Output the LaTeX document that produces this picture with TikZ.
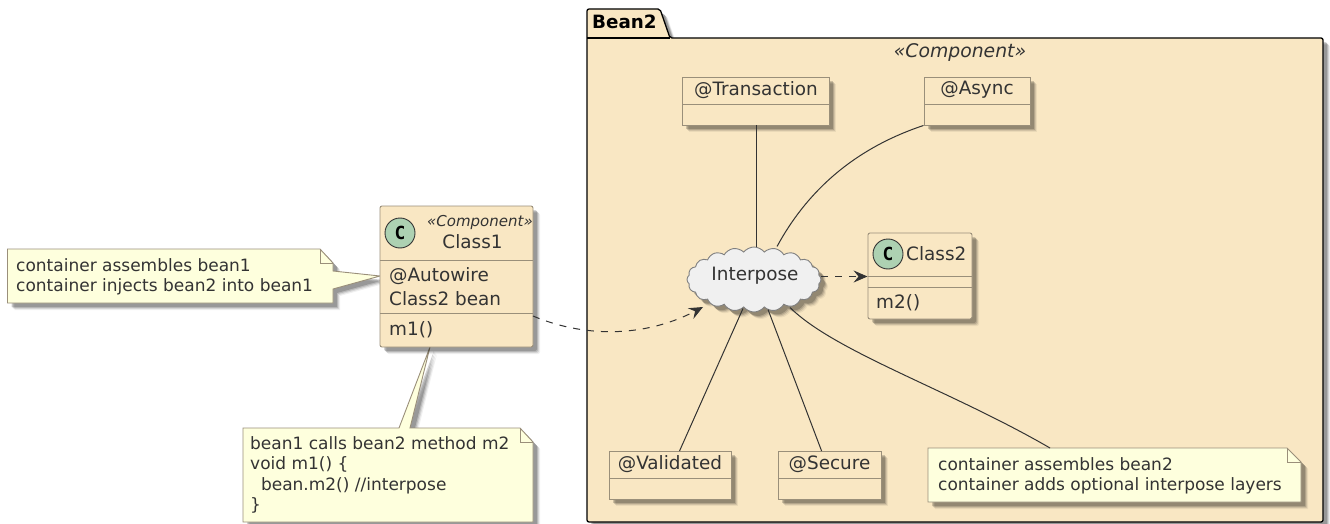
\documentclass[tikz,border=0pt]{standalone}
\usepackage{fontspec}
\setmainfont{DejaVu Sans}
\newfontfamily\spotfont{DejaVu Sans Mono}
\usetikzlibrary{arrows.meta,shadows,shapes.symbols}
\definecolor{beanfill}{HTML}{F9E7C3}
\definecolor{boxline}{HTML}{9A8F7A}
\definecolor{notefill}{HTML}{FEFFDD}
\definecolor{notelabel}{HTML}{333333}
\definecolor{spotfill}{HTML}{ADD1B2}
\begin{document}
\begin{tikzpicture}[x=1pt,y=-1pt,
    softshadow/.style={general shadow={shadow xshift=7pt,shadow yshift=-7pt,fill=black,opacity=.06},
        general shadow={shadow xshift=6pt,shadow yshift=-6pt,fill=black,opacity=.1},
        general shadow={shadow xshift=5pt,shadow yshift=-5pt,fill=black,opacity=.14},
        general shadow={shadow xshift=4pt,shadow yshift=-4pt,fill=black,opacity=.18}},
    classbox/.style={draw=boxline,fill=beanfill,rounded corners=2pt,line width=.9pt,softshadow,inner sep=0},
    plainbox/.style={draw=boxline,fill=beanfill,line width=.9pt,softshadow,inner sep=0},
    notebody/.style={draw=boxline,fill=notefill,line width=.9pt,softshadow},
    divider/.style={draw=boxline,line width=.9pt},
    txt/.style={inner sep=0,text=notelabel,font=\fontsize{18.4}{23}\selectfont,align=left},
    notetxt/.style={txt,anchor=west,font=\fontsize{17}{20.3}\selectfont},
    spot/.style={circle,draw=notelabel,fill=spotfill,line width=.9pt,minimum size=30pt,inner sep=0,font=\fontsize{18}{18}\spotfont\bfseries},
    link/.style={draw=notelabel,line width=1pt},
    dep/.style={link,dashed,dash pattern=on 7pt off 7pt,-{Stealth[length=14pt,width=12pt,inset=5pt]}}]
    \useasboundingbox (0,0) rectangle (1330,524);

    % package
    \draw[black,line width=1.3pt,fill=beanfill,softshadow,rounded corners=2pt] (587,38) -- (587,9) -- (660,9) -- (670,38) -- (1323,38) -- (1323,522) -- (587,522) -- cycle;
    \draw[black,line width=1.3pt] (587,38) -- (670,38);
    \node[inner sep=0,anchor=west,font=\fontsize{18.3}{18}\selectfont\bfseries] (pkgname) at (592,22) {Bean2};
    \node[txt,font=\fontsize{18.8}{18}\selectfont\itshape] (pkgstereo) at (960,52) {«Component»};

    % notes
    \path[notebody] (7.5,249) -- (320,249) -- (333,263) -- (333,271) -- (380,276) -- (333,289) -- (333,303) -- (7.5,303) -- cycle;
    \draw[divider] (320,249) -- (320,263) -- (333,263);
    \node[notetxt] (note1) at (16,277) {container assembles bean1\\container injects bean2 into bean1};

    \path[notebody] (243,428) -- (399,428) -- (430,347) -- (410,428) -- (520,428) -- (533,442) -- (533,522) -- (243,522) -- cycle;
    \draw[divider] (520,428) -- (520,442) -- (533,442);
    \node[notetxt] (note2) at (250,475) {bean1 calls bean2 method m2\\void m1() \{\\\ \ bean.m2() //interpose\\\}};

    \path[notebody] (928,448) -- (1287,448) -- (1301,462) -- (1301,502) -- (928,502) -- cycle;
    \draw[divider] (1287,448) -- (1287,462) -- (1301,462);
    \node[notetxt] (note3) at (938,476) {container assembles bean2\\container adds optional interpose layers};

    % class1
    \node[classbox,minimum width=153pt,minimum height=141pt] (class1) at (456.5,276.5) {};
    \draw[divider] (380,260) -- (533,260) (380,313) -- (533,313);
    \node[spot] (spot1) at (400,233) {C};
    \node[txt,anchor=east,font=\fontsize{15}{12}\selectfont\itshape] (stereo1) at (533,222) {«Component»};
    \node[txt] (name1) at (472.5,242) {Class1};
    \node[txt,anchor=west] (attr1) at (389,276) {@Autowire};
    \node[txt,anchor=west] (attr2) at (389,299) {Class2 bean};
    \node[txt,anchor=west] (meth1) at (389,330) {m1()};

    % class2
    \node[classbox,minimum width=104pt,minimum height=86pt] (class2) at (920,276) {};
    \draw[divider] (868,276) -- (972,276) (868,287) -- (972,287);
    \node[spot] (spot2) at (888,254) {C};
    \node[txt,anchor=west] (name2) at (906,254) {Class2};
    \node[txt,anchor=west] (meth2) at (876,303) {m2()};

    % annotations
    \node[plainbox,minimum width=147pt,minimum height=48pt] (transaction) at (755.5,101) {};
    \draw[divider] (682,104) -- (829,104);
    \node[txt] (transactiontxt) at (756,90) {@Transaction};
    \node[plainbox,minimum width=106pt,minimum height=48pt] (async) at (977,101) {};
    \draw[divider] (924,104) -- (1030,104);
    \node[txt] (asynctxt) at (977,90) {@Async};
    \node[plainbox,minimum width=122pt,minimum height=48pt] (validated) at (670,475) {};
    \draw[divider] (609,478) -- (731,478);
    \node[txt] (validatedtxt) at (670,464) {@Validated};
    \node[plainbox,minimum width=103pt,minimum height=48pt] (secure) at (829.5,475) {};
    \draw[divider] (778,478) -- (881,478);
    \node[txt] (securetxt) at (829.5,464) {@Secure};

    % cloud
    \node[cloud,cloud puffs=20,cloud puff arc=105,aspect=2.1,draw=gray,fill=black!6,line width=.9pt,softshadow,minimum width=134pt,minimum height=65pt,inner sep=0] (interpose) at (754,279.5) {};
    \node[txt] (interposetxt) at (755,276) {Interpose};
    \path (interpose) ++(2.5,-33) coordinate (portA);
    \path (interpose) ++(23,-33) coordinate (portB);
    \path (interpose) ++(-11,29) coordinate (portC);
    \path (interpose) ++(14,30) coordinate (portD);
    \path (interpose) ++(36,28) coordinate (portE);
    \path (interpose) ++(67,-3) coordinate (portF);
    \path (interpose) ++(-51,27.5) coordinate (portG);

    \draw[link] (transaction.south -| portA) -- (portA);
    \draw[link] (async.south west) .. controls (850,150) and (805,195) .. (portB);
    \draw[link] (portC) -- (679.5,451);
    \draw[link] (portD) -- (821.6,451);
    \draw[link] (portE) .. controls (835,352) and (950,390) .. (1050,448);
    \draw[dep] (portF) -- (class2.west |- portF);
    \draw[dep] (533,316) .. controls (590,340) and (650,335) .. (portG);
\end{tikzpicture}
\end{document}
